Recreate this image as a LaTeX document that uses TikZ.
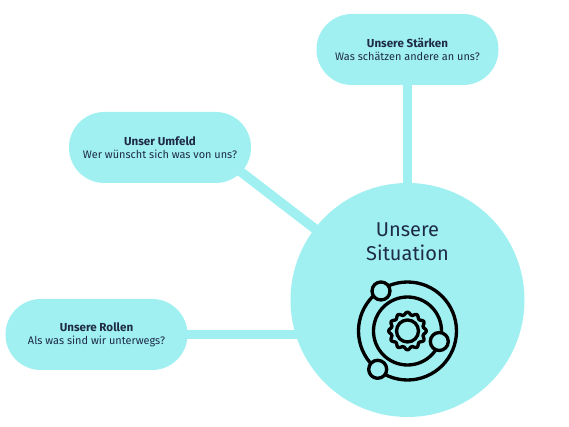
\documentclass[tikz,border=0pt]{standalone}
\usepackage{fontspec}
\setmainfont{Fira Sans}
\usetikzlibrary{backgrounds}
\definecolor{aqua}{HTML}{A0F0F2}
\definecolor{ink}{HTML}{1E2B45}
\newcommand{\headline}[1]{{\fontsize{8.7pt}{9.8pt}\selectfont\bfseries #1}}
\tikzset{
  pill/.style={fill=aqua,draw=none,rounded corners=26.5pt,minimum width=136.5pt,minimum height=53.25pt,inner sep=0pt,align=center,text=ink,font=\fontsize{8.2pt}{9.8pt}\selectfont},
  hub/.style={circle,fill=aqua,draw=none,minimum size=175.5pt,inner sep=0pt},
  link/.style={draw=aqua,line width=7.2pt},
  title/.style={align=center,text=ink,font=\fontsize{15pt}{18pt}\selectfont,inner sep=0pt},
  ring/.style={draw=black,line width=2.5pt},
  planet/.style={circle,draw=black,fill=aqua,line width=2.5pt,minimum size=13.5pt,inner sep=0pt}
}
\begin{document}
\begin{tikzpicture}[x=0.75pt,y=-0.75pt]
\useasboundingbox (0,0) rectangle (569,427);
\node[hub] (hub) at (407.5,300) {};
\node[pill] (st) at (407.5,49.5) {\headline{Unsere Stärken}\\Was schätzen andere an uns?};
\node[pill] (um) at (160,147.5) {\headline{Unser Umfeld}\\Wer wünscht sich was von uns?};
\node[pill] (ro) at (96.5,334.5) {\headline{Unsere Rollen}\\Als was sind wir unterwegs?};
\coordinate (umend) at (232,165);
\begin{scope}[on background layer]
\draw[link] (st.center) -- (hub.center);
\draw[link] (umend) -- (hub.center);
\draw[link] (ro.center) -- (ro.center -| hub.center);
\end{scope}
\node[title] (ti) at (407.5,241.5) {Unsere\\Situation};
\coordinate (ic) at (407.5,331);
\draw[ring] (ic) circle (49);
\draw[ring] (ic) circle (34);
\draw[ring] (ic) circle (11);
\draw[ring,line join=round] plot[domain=0:360,samples=145,shift={(407.5,331)}] (\x:{17.5+1.3*cos(12*\x)}) -- cycle;
\node[planet] (p1) at (381,291) {};
\node[planet] (p2) at (439.3,341.5) {};
\node[planet] (p3) at (377.7,369.3) {};
\end{tikzpicture}
\end{document}
